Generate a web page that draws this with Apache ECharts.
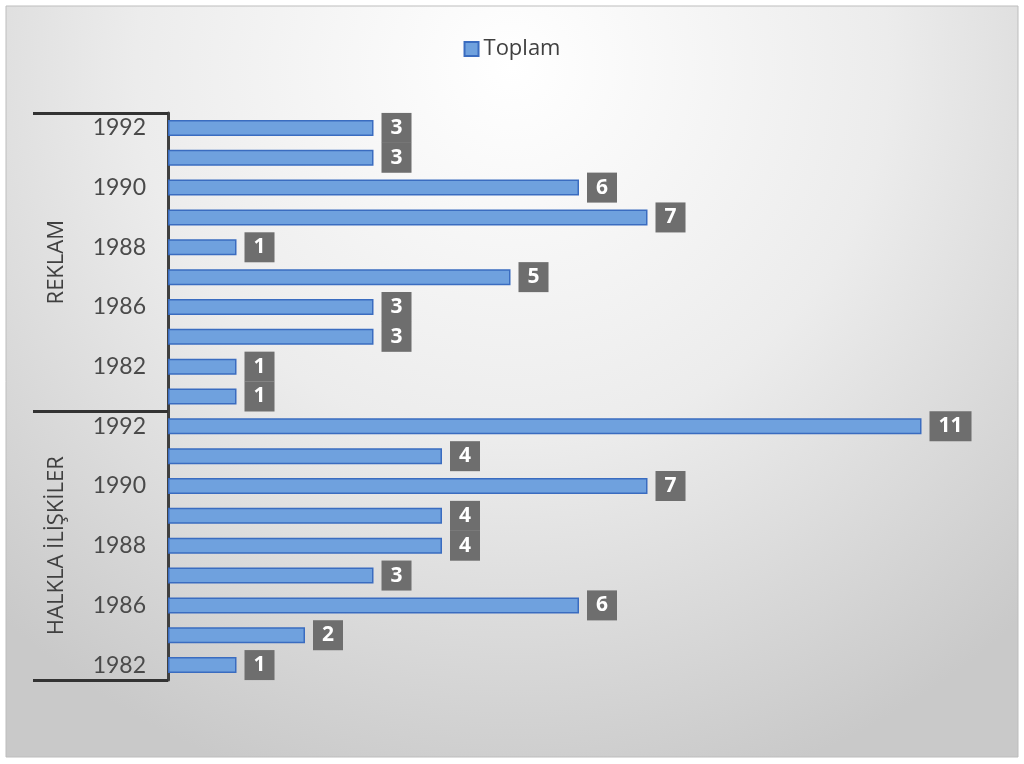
<!DOCTYPE html>
<html><head><meta charset="utf-8">
<script src="https://cdn.jsdelivr.net/npm/echarts@6/dist/echarts.min.js"></script>
<style>html,body{margin:0;padding:0;background:#fff}#c{width:1024px;height:764px}</style>
</head><body><div id="c"></div>
<script>
const groupNames = ['REKLAM', 'HALKLA İLİŞKİLER'];
const reklamYears = ['1992','1991','1990','1989','1988','1987','1986','1985','1982','1981'];
const reklamValues = [3,3,6,7,1,5,3,3,1,1];
const halklaYears = ['1992','1991','1990','1989','1988','1987','1986','1985','1982'];
const halklaValues = [11,4,7,4,4,3,6,2,1];
const seriesName = 'Toplam';

const categories = reklamYears.map(y => groupNames[0] + '|' + y)
  .concat(halklaYears.map(y => groupNames[1] + '|' + y));
const values = reklamValues.concat(halklaValues);
const n1 = reklamYears.length, n2 = halklaYears.length, total = n1 + n2;
const groupCenters = [n1 / 2, n1 + n2 / 2];

const chart = echarts.init(document.getElementById('c'));
chart.setOption({
  backgroundColor: '#ffffff',
  animation: false,
  graphic: [{
    type: 'rect', z: -10, silent: true,
    shape: {x: 6, y: 6, width: 1012, height: 751},
    style: {
      fill: {type: 'radial', x: 0.5, y: 0.08, r: 1.0,
        colorStops: [{offset: 0, color: '#ffffff'}, {offset: 0.5, color: '#ececec'}, {offset: 1, color: '#c9c9c9'}]},
      stroke: '#bdbdbd', lineWidth: 1
    }
  }],
  legend: {
    top: 33, left: 'center', itemWidth: 14, itemHeight: 14, icon: 'rect',
    textStyle: {fontFamily: 'Open Sans', fontSize: 22, color: '#404040'},
    data: [seriesName]
  },
  grid: {left: 168, right: 34, top: 113, bottom: 84, outerBoundsMode: 'none'},
  xAxis: {type: 'value', min: 0, max: 12, show: false, splitLine: {show: false}},
  yAxis: [{
    type: 'category', data: categories, inverse: true,
    axisLine: {show: true, lineStyle: {color: '#404040', width: 3}},
    axisTick: {show: false},
    axisLabel: {
      interval: 1, margin: 22, fontFamily: 'Lato', fontSize: 23, color: '#4a4a4a',
      formatter: v => v.split('|')[1]
    }
  }, {
    type: 'value', inverse: true, min: 0, max: total, position: 'left',
    axisLine: {show: false}, splitLine: {show: false},
    axisTick: {show: true, customValues: [0, n1, total], length: 135,
      lineStyle: {color: '#333333', width: 3}},
    axisLabel: {show: true, customValues: groupCenters, rotate: 90, margin: 100,
      fontFamily: 'Open Sans', fontSize: 22, color: '#404040',
      formatter: v => (v === groupCenters[0] ? groupNames[0] : groupNames[1])}
  }],
  series: [{
    name: seriesName, type: 'bar', data: values, barWidth: 16, yAxisIndex: 0,
    itemStyle: {color: '#6fa1de', borderColor: '#3a6cc0', borderWidth: 1.5},
    label: {
      show: true, position: 'right', distance: 8,
      backgroundColor: '#6e6e6e', color: '#ffffff', fontWeight: 'bold',
      fontFamily: 'Open Sans', fontSize: 21, padding: [4, 9], lineHeight: 22,
      height: 22
    }
  }]
});
</script></body></html>
